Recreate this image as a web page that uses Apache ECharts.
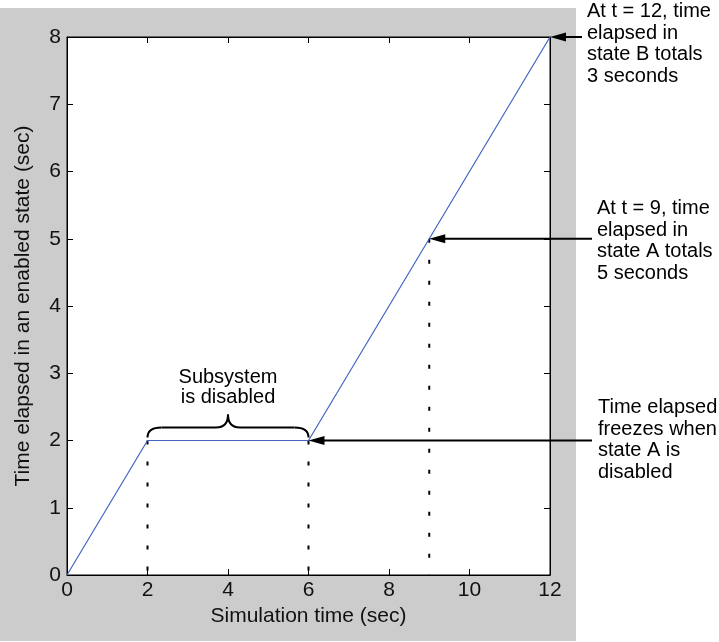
<!DOCTYPE html>
<html><head><meta charset="utf-8">
<script src="https://cdn.jsdelivr.net/npm/echarts@6/dist/echarts.min.js"></script>
<style>html,body{margin:0;padding:0;background:#fff}#c{width:719px;height:642px}</style>
</head><body><div id="c"></div>
<script>
// ---- data ----
const simTime = [0, 2, 6, 12];
const elapsedTime = [0, 2, 2, 8];
const xTickLabels = ['0', '2', '4', '6', '8', '10', '12'];
const yTickLabels = ['0', '1', '2', '3', '4', '5', '6', '7', '8'];
const markerTimes = [2, 6, 9];
const markerValues = [2, 2, 5];
const arrowPoints = [[12, 8], [9, 5], [6, 2]];
const noteTexts = [
  'At t = 12, time\nelapsed in\nstate B totals\n3 seconds',
  'At t = 9, time\nelapsed in\nstate A totals\n5 seconds',
  'Time elapsed\nfreezes when\nstate A is\ndisabled'
];
const braceRange = [2, 6];
const braceText = 'Subsystem\nis disabled';

const axisFont = '"Liberation Sans", Arial, Helvetica, sans-serif';
const noteFont = '"Liberation Sans", Arial, Helvetica, sans-serif';

const chart = echarts.init(document.getElementById('c'), null, {renderer: 'canvas'});

const axisCommon = {
  type: 'value',
  axisLine: {show: true, onZero: false, lineStyle: {color: '#000', width: 1}},
  axisTick: {show: true, inside: true, length: 6, lineStyle: {color: '#000', width: 1}},
  splitLine: {show: false}
};

const series = [{
  type: 'line',
  data: simTime.map((t, i) => [t, elapsedTime[i]]),
  showSymbol: false,
  symbol: 'none',
  lineStyle: {color: '#4464c4', width: 1.2},
  z: 5,
  animation: false
}];
markerTimes.forEach((t, i) => {
  series.push({
    type: 'line',
    data: [[t, markerValues[i]], [t, 0]],
    showSymbol: false,
    symbol: 'none',
    lineStyle: {color: '#000', width: 2, type: [4, 17]},
    z: 4,
    animation: false
  });
});

const option = {
  backgroundColor: '#cccccc',
  animation: false,
  grid: {left: 67, top: 37, width: 483, height: 538, show: true, backgroundColor: '#ffffff', borderColor: '#000', borderWidth: 1},
  xAxis: [
    Object.assign({}, axisCommon, {
      min: 0, max: 12, interval: 2, position: 'bottom',
      axisLabel: {color: '#111', fontFamily: axisFont, fontSize: 21, margin: 5,
        formatter: v => xTickLabels[Math.round(v / 2)]},
      name: 'Simulation time (sec)', nameLocation: 'middle', nameGap: 31,
      nameTextStyle: {color: '#111', fontFamily: axisFont, fontSize: 21}
    }),
    Object.assign({}, axisCommon, {
      min: 0, max: 12, interval: 2, position: 'top',
      axisLabel: {show: false}
    })
  ],
  yAxis: [
    Object.assign({}, axisCommon, {
      min: 0, max: 8, interval: 1, position: 'left',
      axisLabel: {color: '#111', fontFamily: axisFont, fontSize: 21, margin: 6,
        formatter: v => yTickLabels[Math.round(v)]},
      name: 'Time elapsed in an enabled state (sec)', nameLocation: 'middle', nameGap: 33, nameRotate: 90,
      nameTextStyle: {color: '#111', fontFamily: axisFont, fontSize: 21}
    }),
    Object.assign({}, axisCommon, {
      min: 0, max: 8, interval: 1, position: 'right',
      axisLabel: {show: false}
    })
  ],
  series: series
};
chart.setOption(option);

// ---- annotations (positions from the axes) ----
const px = p => chart.convertToPixel({xAxisIndex: 0, yAxisIndex: 0}, p);
const graphics = [];
// white page regions outside the figure
graphics.push({type: 'rect', shape: {x: 576, y: 0, width: 143, height: 642}, style: {fill: '#fff'}, z: 1, silent: true});
graphics.push({type: 'rect', shape: {x: 0, y: 0, width: 719, height: 8}, style: {fill: '#fff'}, z: 1, silent: true});
graphics.push({type: 'rect', shape: {x: 0, y: 641, width: 719, height: 1}, style: {fill: '#fff'}, z: 1, silent: true});

const arrowStartX = [582, 592, 592];
arrowPoints.forEach((p, i) => {
  const [x, y] = px(p);
  const headLen = 16, headHalf = 4.5;
  graphics.push({type: 'line', shape: {x1: x + headLen - 2, y1: y, x2: arrowStartX[i], y2: y},
    style: {stroke: '#000', lineWidth: 2}, z: 100, silent: true});
  graphics.push({type: 'polygon', shape: {points: [[x, y], [x + headLen, y - headHalf], [x + headLen, y + headHalf]]},
    style: {fill: '#000'}, z: 100, silent: true});
});

const noteBoxes = [[587, 1], [597, 198], [598, 397]];
noteTexts.forEach((t, i) => {
  graphics.push({type: 'text', x: noteBoxes[i][0], y: noteBoxes[i][1],
    style: {text: t, fill: '#000', font: '20px ' + noteFont, lineHeight: 21.5, textAlign: 'left', textVerticalAlign: 'top'},
    z: 100, silent: true});
});

// brace built from curves and lines
const [bx1, by] = px([braceRange[0], 2]);
const [bx2] = px([braceRange[1], 2]);
const bm = (bx1 + bx2) / 2;
const yb = by - 3, yt = by - 13, yp = by - 26;
const braceStyle = {stroke: '#000', lineWidth: 2, fill: null};
const braceParts = [
  {type: 'bezierCurve', shape: {x1: bx1, y1: yb, cpx1: bx1, cpy1: yt, x2: bx1 + 14, y2: yt}},
  {type: 'line', shape: {x1: bx1 + 14, y1: yt, x2: bm - 12, y2: yt}},
  {type: 'bezierCurve', shape: {x1: bm - 12, y1: yt, cpx1: bm, cpy1: yt, x2: bm, y2: yp}},
  {type: 'bezierCurve', shape: {x1: bm, y1: yp, cpx1: bm, cpy1: yt, x2: bm + 12, y2: yt}},
  {type: 'line', shape: {x1: bm + 12, y1: yt, x2: bx2 - 14, y2: yt}},
  {type: 'bezierCurve', shape: {x1: bx2 - 14, y1: yt, cpx1: bx2, cpy1: yt, x2: bx2, y2: yb}}
];
braceParts.forEach(b => graphics.push(Object.assign(b, {style: braceStyle, z: 100, silent: true})));
graphics.push({type: 'text', x: bm, y: by - 73,
  style: {text: braceText, fill: '#000', font: '20px ' + noteFont, lineHeight: 20, textAlign: 'center', textVerticalAlign: 'top'},
  z: 100, silent: true});

chart.setOption({graphic: {elements: graphics}});
</script>
</body></html>
